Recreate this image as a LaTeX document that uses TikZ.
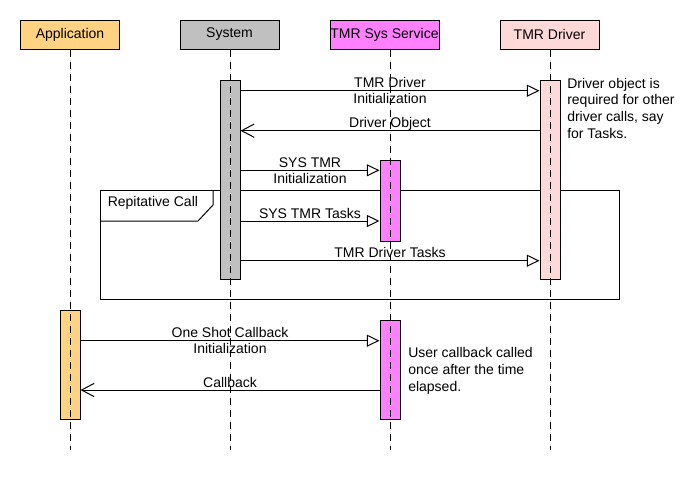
\documentclass[tikz,border=0pt]{standalone}
\usepackage{fontspec}
\setmainfont{Liberation Sans}
\usetikzlibrary{arrows.meta}
\definecolor{appfill}{HTML}{FFD381}
\definecolor{sysfill}{HTML}{C0C0C0}
\definecolor{svcfill}{HTML}{FF80FF}
\definecolor{drvfill}{HTML}{FFD8D8}

\begin{document}
\begin{tikzpicture}[x=0.75pt,y=-0.75pt,
  font=\fontsize{10.5}{12}\selectfont,
  head/.style={draw, line width=0.75pt, minimum height=21.75pt, inner sep=0pt},
  actbar/.style={draw, line width=0.75pt, minimum width=15pt, inner sep=0pt, anchor=north},
  lifeline/.style={line width=0.75pt, dash pattern=on 5.25pt off 3.75pt},
  call/.style={line width=0.75pt, -{Triangle[open,length=9.5pt,width=9pt]}},
  reply/.style={line width=0.75pt, -{Straight Barb[length=9.5pt,width=10pt]}},
  msg/.style={align=center, inner sep=0pt},
  msgup/.style={anchor=base, inner sep=0pt, yshift=2.25pt},
  note/.style={align=left, anchor=north west, inner sep=0pt},
  framebox/.style={line width=0.75pt}
]
\useasboundingbox (0,0) rectangle (700,490);

% participants
\node[head, fill=appfill, minimum width=74.25pt] (app) at (70,34.5) {Application};
\node[head, fill=sysfill, minimum width=74.25pt] (sys) at (229.5,34.5) {System};
\node[head, fill=svcfill, minimum width=81.75pt] (svc) at (384.5,34.5) {TMR Sys Service};
\node[head, fill=drvfill, minimum width=74.25pt] (drv) at (549.5,34.5) {TMR Driver};

% loop fragment
\draw[framebox] (100,190) rectangle (619,299);
\draw[framebox] (100,221) -- (198,221) -- (213,205) -- (213,190);
\node[anchor=west, inner sep=0pt] (loop) at (107.5,203) {Repitative Call};

% activation bars
\node[actbar, fill=sysfill, minimum height=149.25pt] (sysbar) at (230,80) {};
\node[actbar, fill=drvfill, minimum height=149.25pt] (drvbar) at (550,80) {};
\node[actbar, fill=svcfill, minimum height=60.75pt] (svcbarA) at (390,160) {};
\node[actbar, fill=appfill, minimum height=81.75pt] (appbar) at (70,310) {};
\node[actbar, fill=svcfill, minimum height=74.25pt] (svcbarB) at (390,320) {};

% message rows
\coordinate (r1) at (0,90.7);
\coordinate (r2) at (0,130.7);
\coordinate (r3) at (0,170.3);
\coordinate (r4) at (0,221);
\coordinate (r5) at (0,260.7);
\coordinate (r6) at (0,340.7);
\coordinate (r7) at (0,390);
\coordinate (bottom) at (0,450);

\draw[call] (sysbar.east |- r1) -- (drvbar.west |- r1)
  node[msg, midway] {TMR Driver\\Initialization};
\draw[reply] (drvbar.west |- r2) -- (sysbar.east |- r2)
  node[msgup, midway] {Driver Object};
\draw[call] (sysbar.east |- r3) -- (svcbarA.west |- r3)
  node[msg, midway] {SYS TMR\\Initialization};
\draw[call] (sysbar.east |- r4) -- (svcbarA.west |- r4)
  node[msgup, midway] {SYS TMR Tasks};
\draw[call] (sysbar.east |- r5) -- (drvbar.west |- r5)
  node[msgup, midway] {TMR Driver Tasks};
\draw[call] (appbar.east |- r6) -- (svcbarB.west |- r6)
  node[msg, midway] {One Shot Callback\\Initialization};
\draw[reply] (svcbarB.west |- r7) -- (appbar.east |- r7)
  node[msgup, midway] {Callback};

% notes
\node[note, font=\fontsize{10.5}{12.4}\selectfont] (drvnote) at (567,78)
  {Driver object is\\required for other\\driver calls, say\\for Tasks.};
\node[note, font=\fontsize{10.5}{12.75}\selectfont] (cbnote) at (408,347.5)
  {User callback called\\once after the time\\elapsed.};

% lifelines
\draw[lifeline] (app.south) -- (app.south |- bottom);
\draw[lifeline] (sysbar.north |- sys.south) -- (sysbar.north |- bottom);
\draw[lifeline] (svcbarA.north |- svc.south) -- (svcbarA.north |- bottom);
\draw[lifeline] (drvbar.north |- drv.south) -- (drvbar.north |- bottom);
\end{tikzpicture}
\end{document}
